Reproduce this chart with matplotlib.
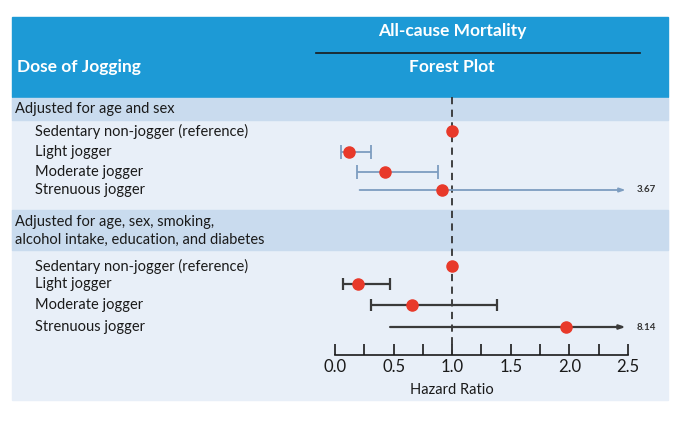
import numpy as np
import matplotlib.pyplot as plt
from matplotlib.patches import Rectangle

plt.rcParams['font.family'] = ['Lato', 'DejaVu Sans']

# data
groups = ["Adjusted for age and sex",
          "Adjusted for age, sex, smoking,\nalcohol intake, education, and diabetes"]
labels = ["Sedentary non-jogger (reference)", "Light jogger",
          "Moderate jogger", "Strenuous jogger"]
hr_1 = [1.00, 0.12, 0.43, 0.91]
lo_1 = [None, 0.05, 0.19, 0.21]
hi_1 = [None, 0.31, 0.88, 3.67]
hr_2 = [1.00, 0.20, 0.66, 1.97]
lo_2 = [None, 0.07, 0.31, 0.47]
hi_2 = [None, 0.47, 1.38, 8.14]
xticks = [0.0, 0.5, 1.0, 1.5, 2.0, 2.5]

# layout (pixels from top)
W, H = 681, 422
x0_px, x25_px = 335, 628
rows_1 = [131, 152, 172, 190]
rows_2 = [266, 284, 305, 327]
axis_y = 355

fig = plt.figure(figsize=(W / 100, H / 100), dpi=100)
bg = fig.add_axes([0, 0, 1, 1])
bg.set_xlim(0, W)
bg.set_ylim(H, 0)
bg.axis('off')

bg.add_patch(Rectangle((12, 98), 656, 302, color='#e8eff8', zorder=0))
bg.add_patch(Rectangle((12, 17), 656, 80, color='#1d9ad6', zorder=1))
bg.add_patch(Rectangle((12, 98), 656, 22, color='#c9dbee', zorder=1))
bg.add_patch(Rectangle((12, 210), 656, 40, color='#c9dbee', zorder=1))

hdr = dict(color='white', fontweight='bold', fontsize=12.5, va='center')
bg.text(452, 31, "All-cause Mortality", ha='center', **hdr)
bg.text(452, 67, "Forest Plot", ha='center', **hdr)
bg.text(17, 67, "Dose of Jogging", ha='left', **hdr)
bg.plot([316, 640], [53, 53], color='#1a1a1a', lw=1.2, zorder=2)

bg.text(15, 109, groups[0], fontsize=10.5, va='center', color='#1a1a1a', zorder=3)
bg.text(15, 231, groups[1], fontsize=10.5, va='center', color='#1a1a1a',
        linespacing=1.3, zorder=3)
for lab, y in zip(labels, rows_1):
    bg.text(35, y, lab, fontsize=10.5, va='center', color='#1a1a1a', zorder=3)
for lab, y in zip(labels, rows_2):
    bg.text(35, y, lab, fontsize=10.5, va='center', color='#1a1a1a', zorder=3)
bg.text(452, 390, "Hazard Ratio", ha='center', va='center', fontsize=10.5,
        color='#1a1a1a')

# forest axes: x in hazard ratio, y in pixels measured from the bottom
scale = (x25_px - x0_px) / 2.5
ax = fig.add_axes([0, 0, 1, 1])
ax.set_xlim(-x0_px / scale, (W - x0_px) / scale)
ax.set_ylim(0, H)
ax.patch.set_alpha(0)
for s in ['top', 'left', 'right']:
    ax.spines[s].set_visible(False)
ax.spines['bottom'].set_position(('data', H - axis_y))
ax.spines['bottom'].set_bounds(0, 2.5)
ax.spines['bottom'].set_color('#1a1a1a')
ax.spines['bottom'].set_linewidth(1.2)
ax.set_yticks([])
ax.set_xticks(xticks)
ax.set_xticklabels([f"{t:.1f}" for t in xticks])
ax.set_xticks(np.arange(0.25, 2.5, 0.5), minor=True)
ax.tick_params(axis='x', which='both', direction='in', length=8, width=1.2,
               color='#1a1a1a', labelsize=12, pad=3, labelcolor='#1a1a1a')

ax.plot([1, 1], [H - 97, H - axis_y], color='#333333', lw=1.3,
        ls=(0, (4, 3)), zorder=2)

xmax = 2.48
for hr, lo, hi, rows, col, lw, cap in [
        (hr_1, lo_1, hi_1, rows_1, '#7d9dc0', 1.3, 5),
        (hr_2, lo_2, hi_2, rows_2, '#3a3a3a', 1.6, 4.5)]:
    for h, l, u, r in zip(hr, lo, hi, rows):
        y = H - r
        if l is not None:
            if u > 2.5:
                ax.annotate('', xy=(xmax, y), xytext=(l, y),
                            arrowprops=dict(arrowstyle='-|>,head_length=0.35,head_width=0.12',
                                            color=col, lw=lw, shrinkA=0, shrinkB=0),
                            zorder=3)
                ax.text(xmax + 0.09, y, f"{u:.2f}", fontsize=7, fontweight='bold',
                        va='center', color='#333333')
            else:
                ax.errorbar([h], [y], xerr=[[h - l], [u - h]], fmt='none',
                            ecolor=col, elinewidth=lw, capsize=cap, capthick=lw,
                            zorder=3)
        ax.plot(h, y, 'o', color='#e8392a', markersize=8, zorder=4)

fig.savefig('out.png', dpi=100)
